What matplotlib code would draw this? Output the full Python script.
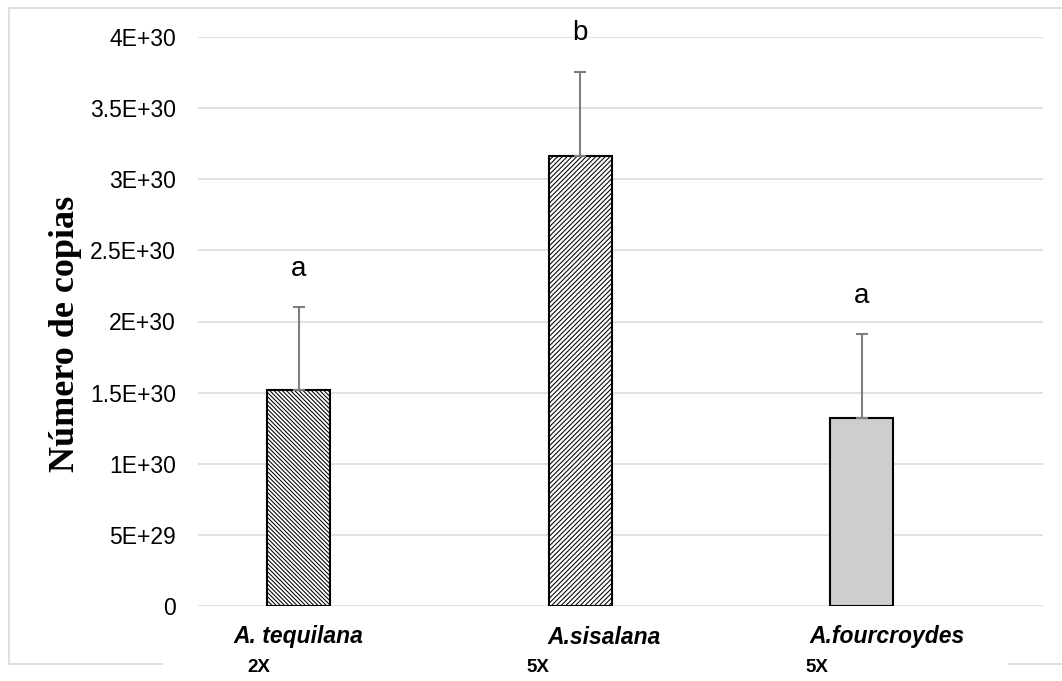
import numpy as np
import matplotlib
matplotlib.use("Agg")
import matplotlib.pyplot as plt
from matplotlib.lines import Line2D

# Daten
especies = ["A. tequilana", "A.sisalana", "A.fourcroydes"]
ploidia = ["2X", "5X", "5X"]
copias = [1.52e30, 3.165e30, 1.32e30]
error = [0.58e30, 0.59e30, 0.59e30]
letras = ["a", "b", "a"]
yticks = [0, 0.5e30, 1e30, 1.5e30, 2e30, 2.5e30, 3e30, 3.5e30, 4e30]
ytick_labels = ["0", "5E+29", "1E+30", "1.5E+30", "2E+30", "2.5E+30", "3E+30", "3.5E+30", "4E+30"]

W, H = 1062, 681
fig = plt.figure(figsize=(W / 100, H / 100), dpi=100)
ax = fig.add_axes([198 / W, 1 - 606 / H, (1043 - 198) / W, (606 - 37) / H])

plt.rcParams['hatch.linewidth'] = 0.75
x = np.arange(len(especies))
offset = -0.143
breite = 0.224
farben = ["white", "white", "#cfcdce"]
hatches = ["\\" * 8, "/" * 7, None]

for i in range(len(especies)):
    ax.bar(x[i] + offset, copias[i], width=breite, color=farben[i], edgecolor="black",
           linewidth=1.5, hatch=hatches[i], zorder=3)
    ax.errorbar(x[i] + offset, copias[i], yerr=[[0], [error[i]]], fmt="none",
                ecolor="#7f7f7f", elinewidth=1.5, capsize=4.5, capthick=1.5, zorder=4)
    ax.text(x[i] + offset, copias[i] + error[i] + 0.27e30, letras[i], ha="center", va="center",
            fontsize=20, family="Liberation Sans", clip_on=False)

ax.set_xlim(-0.5, 2.5)
ax.set_ylim(0, 4e30)
ax.set_yticks(yticks)
ax.set_yticklabels(ytick_labels, family="Liberation Sans", fontsize=16.5)
ax.tick_params(axis="y", length=0, pad=16)
ax.set_xticks([])
ax.grid(axis="y", color="#d9d9d9", linewidth=1.1, zorder=0)
for s in ax.spines.values():
    s.set_visible(False)
ax.set_axisbelow(True)

# Kategorien
cat_px = [298, 604, 887]
for i, name in enumerate(especies):
    fig.text(cat_px[i] / W, 1 - 637 / H, name, ha="center", va="center", fontsize=16.5,
             family="Liberation Sans", fontweight="bold", style="italic")
plo_px = [259, 538, 817]
for i, p in enumerate(ploidia):
    fig.text(plo_px[i] / W, 1 - 668 / H, p, ha="center", va="center", fontsize=13.5,
             family="Liberation Sans", fontweight="bold")

fig.text(65 / W, 1 - 334 / H, "Número de copias", rotation=90, ha="center", va="center",
         fontsize=26, family="Liberation Serif", fontweight="bold")

# Rahmen
rc = "#d9d9d9"
fig.add_artist(Line2D([9 / W, 9 / W], [1 - 8 / H, 1 - 664 / H], color=rc, lw=1.2))
fig.add_artist(Line2D([9 / W, 1.0], [1 - 8 / H, 1 - 8 / H], color=rc, lw=1.2))
fig.add_artist(Line2D([9 / W, 162 / W], [1 - 664 / H, 1 - 664 / H], color=rc, lw=1.2))
fig.add_artist(Line2D([1009 / W, 1.0], [1 - 664 / H, 1 - 664 / H], color=rc, lw=1.2))

fig.savefig("out.png", dpi=100, facecolor="white")
